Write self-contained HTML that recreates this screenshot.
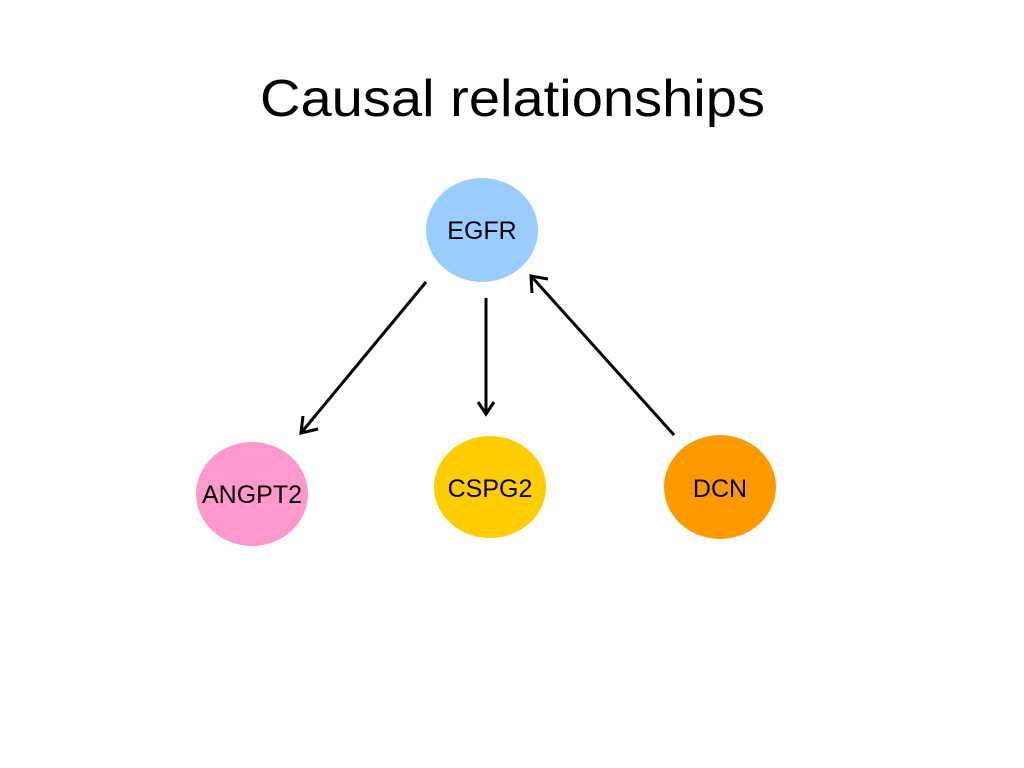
<!DOCTYPE html>
<html><head><style>
html,body{margin:0;padding:0;background:#fff;width:1024px;height:768px;overflow:hidden}
</style></head><body>
<svg width="1024" height="768" xmlns="http://www.w3.org/2000/svg">
<text x="260" y="116" textLength="505" lengthAdjust="spacingAndGlyphs" font-family="Liberation Sans, sans-serif" font-size="52" fill="#000">Causal relationships</text>
<ellipse cx="482" cy="230" rx="56" ry="52" fill="#99ccff"/>
<ellipse cx="252" cy="494" rx="56" ry="52" fill="#ff99cc"/>
<ellipse cx="490" cy="487" rx="56" ry="51" fill="#ffcc00"/>
<ellipse cx="720" cy="487" rx="56" ry="52" fill="#ff9900"/>
<g font-family="Liberation Sans, sans-serif" font-size="25" text-anchor="middle" fill="#000">
<text x="482" y="239">EGFR</text>
<text x="252" y="503">ANGPT2</text>
<text x="490" y="497">CSPG2</text>
<text x="720" y="497">DCN</text>
</g>
<g stroke="#000" stroke-width="3" fill="none">
<line x1="426" y1="282" x2="301" y2="433"/>
<polyline points="303,416 301,433 318,429"/>
<line x1="486" y1="298" x2="486" y2="414"/>
<polyline points="478,402 486,414 494,402"/>
<line x1="674" y1="435" x2="531" y2="276"/>
<polyline points="532,293 531,276 548,279"/>
</g>
</svg>
</body></html>
